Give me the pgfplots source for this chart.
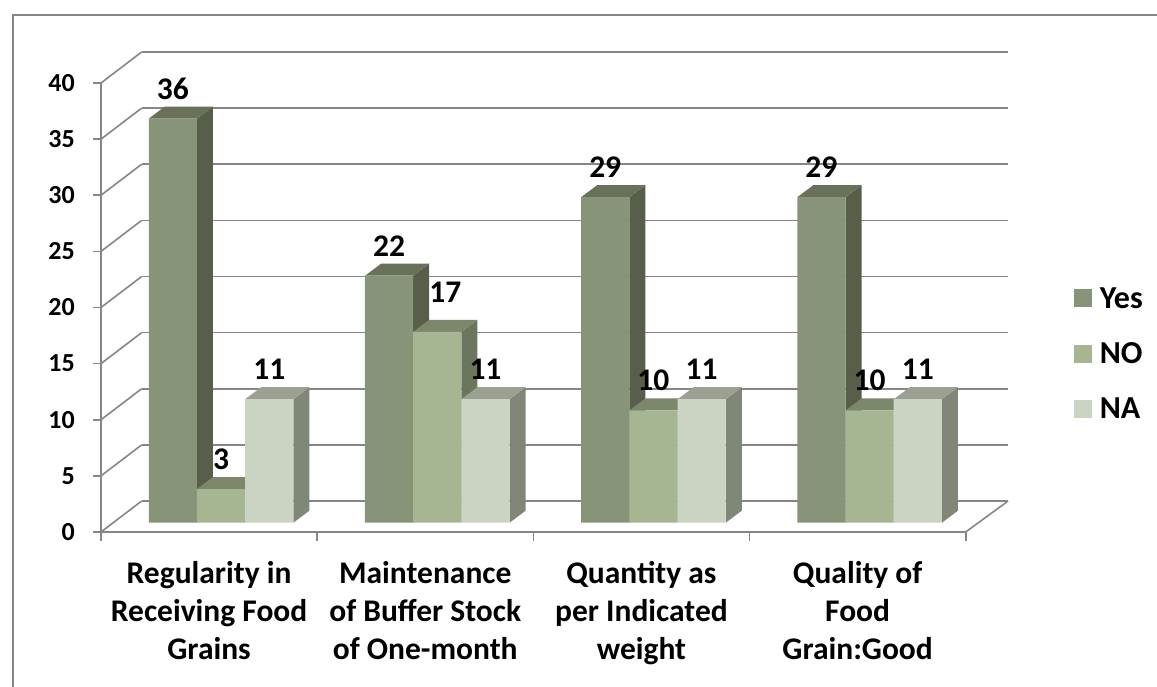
\documentclass[border=0pt]{standalone}
\usepackage{pgfplots}
\pgfplotsset{compat=1.18}
\usepackage{fontspec}
\setmainfont{Carlito}
\definecolor{gridc}{RGB}{134,134,134}
\definecolor{yesF}{RGB}{136,148,122}
\definecolor{yesS}{RGB}{87,94,74}
\definecolor{yesT}{RGB}{105,113,90}
\definecolor{noF}{RGB}{166,181,146}
\definecolor{noS}{RGB}{108,118,95}
\definecolor{noT}{RGB}{125,135,108}
\definecolor{naF}{RGB}{203,211,194}
\definecolor{naS}{RGB}{128,134,120}
\definecolor{naT}{RGB}{155,161,146}
% side and top faces of one bar: left edge, value, side colour, top colour
\newcommand\barfaces[4]{%
  \pgfmathsetmacro\xL{#1}%
  \pgfmathsetmacro\xR{#1+0.223}%
  \pgfmathsetmacro\xLb{#1+0.074}%
  \pgfmathsetmacro\xRb{#1+0.297}%
  \pgfmathsetmacro\yT{#2}%
  \pgfmathsetmacro\yTb{#2+1.069}%
  \addplot[fill=#3,draw=none,mark=none,forget plot] coordinates {(\xR,0)(\xRb,1.069)(\xRb,\yTb)(\xR,\yT)(\xR,0)};
  \addplot[fill=#4,draw=none,mark=none,forget plot] coordinates {(\xL,\yT)(\xLb,\yTb)(\xRb,\yTb)(\xR,\yT)(\xL,\yT)};
}
\begin{document}
\begin{tikzpicture}[x=1pt,y=1pt]
\path[use as bounding box] (0,0) rectangle (1157,687);
\draw[gridc,line width=2pt] (12.5,0) -- (12.5,672) -- (1157,672);
% back wall
\begin{axis}[name=back,at={(141.7pt,186pt)},anchor=south west,scale only axis,
  width=866.3pt,height=449pt,xmin=0,xmax=4,ymin=0,ymax=40,
  axis line style={draw=none},xtick=\empty,ytick={0,5,...,40},yticklabels={},
  major tick length=0pt,ymajorgrids,
  grid style={gridc,line width=1.6pt}]
\end{axis}
% front axis: ticks, labels, side-wall lines
\begin{axis}[at={(101pt,155pt)},anchor=south west,scale only axis,clip=false,
  width=864.7pt,height=449pt,xmin=0,xmax=4,ymin=0,ymax=40,
  axis x line*=bottom,axis y line*=left,
  axis line style={gridc,line width=1.8pt},
  ytick={0,5,...,40},
  xtick={0.5,1.5,2.5,3.5},minor xtick={0,1,2,3,4},
  xticklabels={{Regularity in\\Receiving Food\\Grains},{Maintenance\\of Buffer Stock\\of One-month},{Quantity as\\per Indicated\\weight},{Quality of\\Food\\Grain:Good}},
  major x tick style={draw=none},
  minor x tick style={gridc,line width=1.6pt},
  major y tick style={gridc,line width=1.6pt},
  tick align=outside,
  major tick length=8pt,minor tick length=9pt,
  /pgf/number format/assume math mode=true,
  yticklabel style={font=\fontsize{26}{30}\selectfont\bfseries,inner sep=0pt,xshift=-18pt},
  xticklabel style={font=\fontsize{31.5}{38.3}\selectfont\bfseries,align=center,inner sep=0pt,yshift=-21pt}]
\pgfplotsinvokeforeach{0,5,...,40}{
  \pgfmathsetmacro\ya{#1}\pgfmathsetmacro\yb{#1+2.76}
  \addplot[gridc,line width=1.6pt,mark=none,forget plot] coordinates {(0,\ya)(0.188,\yb)};
}
\addplot[gridc,line width=1.6pt,mark=none,forget plot] coordinates {(4,0)(4.196,2.76)};
\end{axis}
% bars
\begin{axis}[at={(113pt,164.3pt)},anchor=south west,scale only axis,clip=false,
  width=864.7pt,height=449pt,xmin=0,xmax=4,ymin=0,ymax=40,
  hide axis,
  /pgf/number format/assume math mode=true,
  legend style={at={(1.111,0.376)},anchor=west,draw=none,fill=none,inner sep=0pt,
    font=\fontsize{32}{36}\selectfont\bfseries,
    row sep=29pt},
  legend cell align=left,
  legend image code/.code={\fill[#1] (0pt,-9pt) rectangle (18pt,9pt);\path (24pt,0pt);},
  bar width=48.2pt,
  every node near coord/.style={font=\fontsize{31.5}{36}\selectfont\bfseries,anchor=center,yshift=30pt,inner sep=0pt,text=black}]
% Yes
\barfaces{0.1655}{36}{yesS}{yesT}
\barfaces{1.1655}{22}{yesS}{yesT}
\barfaces{2.1655}{29}{yesS}{yesT}
\barfaces{3.1655}{29}{yesS}{yesT}
\addplot[ybar,bar shift=-48.2pt,fill=yesF,draw=none,nodes near coords,
  every node near coord/.append style={xshift=-48.2pt}] coordinates {(0.5,36)(1.5,22)(2.5,29)(3.5,29)};
\addlegendentry{Yes}
% NO
\barfaces{0.3885}{3}{noS}{noT}
\barfaces{1.3885}{17}{noS}{noT}
\barfaces{2.3885}{10}{noS}{noT}
\barfaces{3.3885}{10}{noS}{noT}
\addplot[ybar,bar shift=0pt,fill=noF,draw=none,nodes near coords,
  coordinate style/.condition={y==17}{xshift=8pt,yshift=10pt}] coordinates {(0.5,3)(1.5,17)(2.5,10)(3.5,10)};
\addlegendentry{NO}
% NA
\barfaces{0.6115}{11}{naS}{naT}
\barfaces{1.6115}{11}{naS}{naT}
\barfaces{2.6115}{11}{naS}{naT}
\barfaces{3.6115}{11}{naS}{naT}
\addplot[ybar,bar shift=48.2pt,fill=naF,draw=none,nodes near coords,
  every node near coord/.append style={xshift=48.2pt}] coordinates {(0.5,11)(1.5,11)(2.5,11)(3.5,11)};
\addlegendentry{NA}
\end{axis}
\end{tikzpicture}
\end{document}
